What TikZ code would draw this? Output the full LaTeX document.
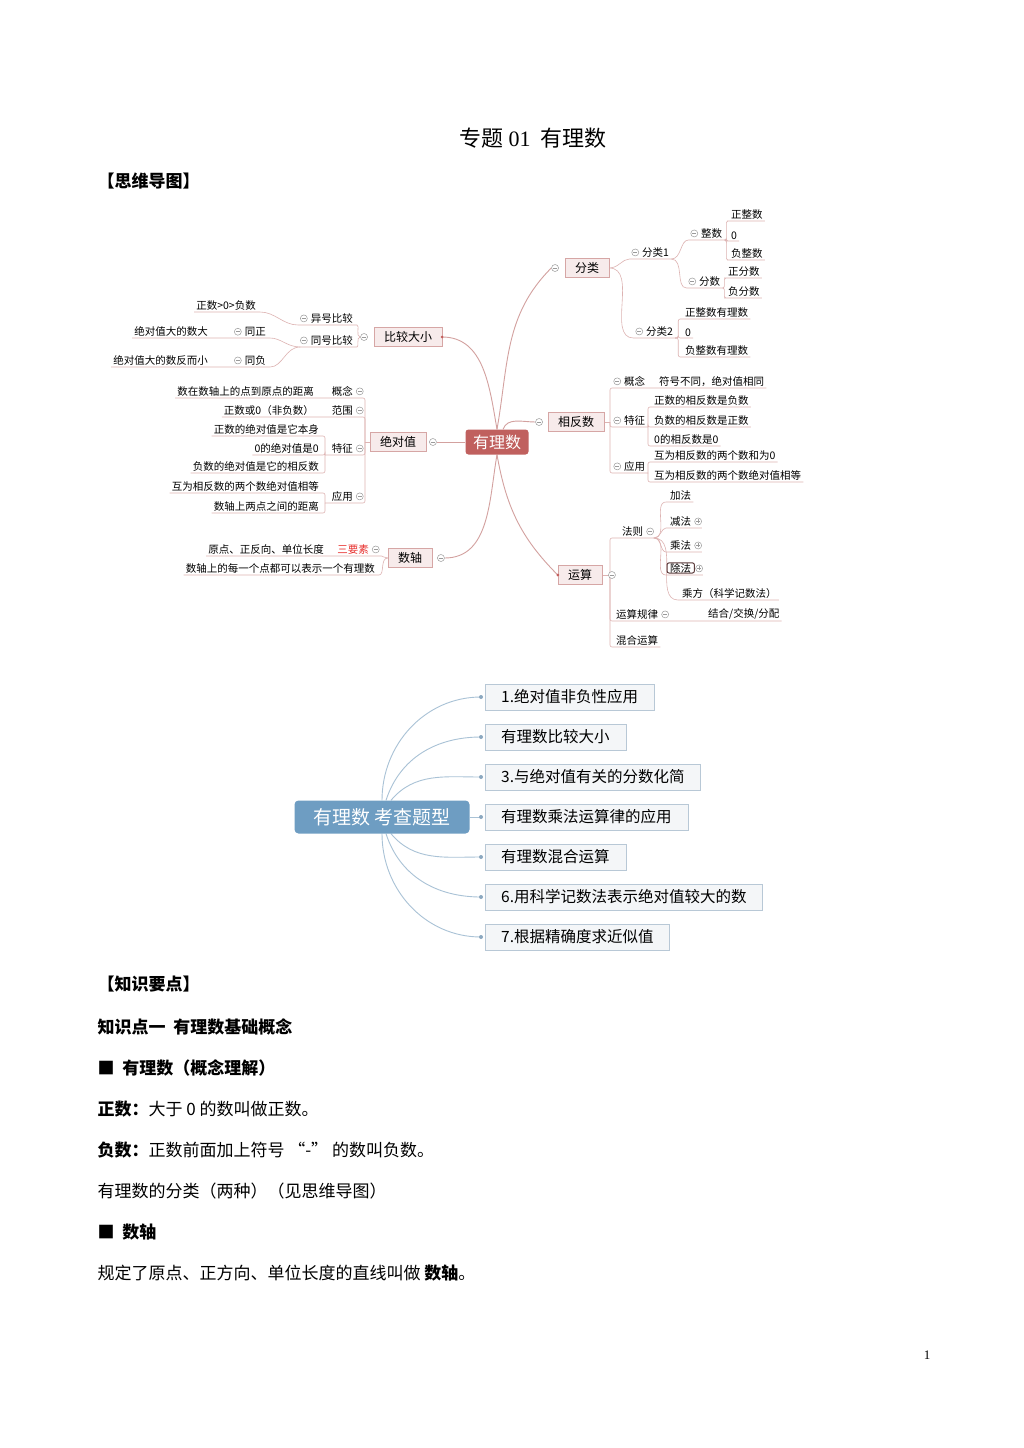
\documentclass[tikz,border=0pt]{standalone}
\usepackage{fontspec}
\setmainfont{Noto Sans CJK SC}
\newfontfamily\numfont{Liberation Serif}
\usetikzlibrary{positioning,backgrounds}
\definecolor{rootred}{HTML}{C0605E}
\definecolor{topicfill}{HTML}{F7EBEB}
\definecolor{topicline}{HTML}{D6A6A5}
\definecolor{twigpink}{HTML}{DDB3B2}
\definecolor{limbpink}{HTML}{D3A19F}
\definecolor{dotred}{HTML}{C45E5C}
\definecolor{foldgray}{HTML}{9A9A9A}
\definecolor{keyred}{HTML}{E8312F}
\definecolor{selline}{HTML}{5B3B3B}
\definecolor{qblue}{HTML}{6E9DC2}
\definecolor{qline}{HTML}{A9C2D6}
\definecolor{qfill}{HTML}{F4F6F8}
\definecolor{qborder}{HTML}{B8C8D6}
\definecolor{qdotc}{HTML}{8CA8C0}

\begin{document}
\begin{tikzpicture}[x=1pt, y=-1pt,
  root/.style={fill=rootred, text=white, rounded corners=3pt, minimum width=63pt,
               minimum height=25pt, font=\fontsize{16}{18}\selectfont},
  topic/.style={draw=topicline, fill=topicfill, minimum height=19pt, inner xsep=10pt,
                inner ysep=1pt, font=\fontsize{12}{14}\selectfont},
  twig/.style={draw=twigpink, line width=0.6pt, rounded corners=2pt},
  limb/.style={draw=limbpink, line width=0.9pt},
  lf/.style={inner xsep=2pt, inner ysep=1.5pt, font=\fontsize{10.5}{12}\selectfont},
  lfL/.style={lf, anchor=south east},
  lfR/.style={lf, anchor=south west},
  fold/.style={circle, draw=foldgray, fill=white, line width=0.5pt, inner sep=0pt, minimum size=7pt,
               path picture={\draw[foldgray, line width=0.5pt]
                 ([xshift=-2pt]path picture bounding box.center) -- ([xshift=2pt]path picture bounding box.center);}},
  unfold/.style={fold,
               path picture={\draw[foldgray, line width=0.5pt]
                 ([xshift=-2pt]path picture bounding box.center) -- ([xshift=2pt]path picture bounding box.center)
                 ([yshift=-2pt]path picture bounding box.center) -- ([yshift=2pt]path picture bounding box.center);}},
  dot/.style={circle, fill=dotred, inner sep=0pt, minimum size=3pt},
  selbox/.style={draw=selline, line width=1pt, rounded corners=2pt},
  qroot/.style={fill=qblue, text=white, rounded corners=4pt, minimum width=175pt,
                minimum height=33pt, font=\fontsize{19}{22}\selectfont},
  qbox/.style={draw=qborder, fill=qfill, anchor=west, minimum height=26pt, inner xsep=16pt,
               font=\fontsize{15.5}{18}\selectfont},
  qlimb/.style={draw=qline, line width=0.9pt},
  qdot/.style={circle, fill=qdotc, inner sep=0pt, minimum size=4pt},
  head/.style={anchor=west, font=\fontsize{17}{20}\selectfont\bfseries},
  body/.style={anchor=west, font=\fontsize{17}{20}\selectfont},
]
  \useasboundingbox (0,0) rectangle (1024,1448);

  % headings
  \node[font=\fontsize{22}{26}\selectfont] (title) at (533,138) {专题 {\numfont 01}\ \ 有理数};
  \node[head] (mapHead) at (94,181) {【思维导图】};

  % centre
  \node[root] (zx) at (497,442) {有理数};

  % 分类
  \node[topic] (fl) at (587,268) {分类};
  \node[fold, left=6pt of fl] (fl-f) {};
  \node[lfR] (fl1) at (640,259) {分类1};
  \node[fold, left=1pt of fl1] (fl1-f) {};
  \node[lfR] (zs) at (699,240) {整数};
  \node[fold, left=1pt of zs] (zs-f) {};
  \node[lfR] (z1) at (729,221) {正整数};
  \node[lfR] (z2) at (729,241) {0};
  \node[lfR] (z3) at (729,260) {负整数};
  \node[lfR] (fs) at (697,288) {分数};
  \node[fold, left=1pt of fs] (fs-f) {};
  \node[lfR] (f1) at (726,278) {正分数};
  \node[lfR] (f2) at (726,298) {负分数};
  \node[lfR] (fl2) at (644,338) {分类2};
  \node[fold, left=1pt of fl2] (fl2-f) {};
  \node[lfR] (p1) at (683,319) {正整数有理数};
  \node[lfR] (p2) at (683,338) {0};
  \node[lfR] (p3) at (683,357) {负整数有理数};

  % 比较大小
  \node[topic] (bx) at (408,337) {比较大小};
  \node[fold, left=6pt of bx] (bx-f) {};
  \node[dot] (bx-d) at (bx.east) {};
  \node[lfL] (yh) at (355,325) {异号比较};
  \node[fold, left=1pt of yh] (yh-f) {};
  \node[lfL] (zf) at (258,312) {正数>0>负数};
  \node[lfL] (th) at (355,347) {同号比较};
  \node[fold, left=1pt of th] (th-f) {};
  \node[lfL] (tzh) at (268,338) {同正};
  \node[fold, left=1pt of tzh] (tzh-f) {};
  \node[lfL] (jd) at (210,338) {绝对值大的数大};
  \node[lfL] (tfh) at (268,367) {同负};
  \node[fold, left=1pt of tfh] (tfh-f) {};
  \node[lfL] (jf) at (210,367) {绝对值大的数反而小};

  % 绝对值
  \node[topic] (jv) at (398,442) {绝对值};
  \node[fold, right=3pt of jv] (jv-f) {};
  \coordinate (jt) at (365,442);
  \node[lfL] (gk2) at (355,398) {概念};
  \node[fold, right=1pt of gk2] (gk2-f) {};
  \node[lfL] (ck) at (316,398) {数在数轴上的点到原点的距离};
  \node[lfL] (fw) at (355,417) {范围};
  \node[fold, right=1pt of fw] (fw-f) {};
  \node[lfL] (cf) at (316,417) {正数或0（非负数）};
  \node[lfL] (tz2) at (355,455) {特征};
  \node[fold, right=1pt of tz2] (tz2-f) {};
  \coordinate (tzt2) at (325,455);
  \node[lfL] (c1) at (321,436) {正数的绝对值是它本身};
  \node[lfL] (c2) at (321,455) {0的绝对值是0};
  \node[lfL] (c3) at (321,473) {负数的绝对值是它的相反数};
  \node[lfL] (yy2) at (355,503) {应用};
  \node[fold, right=1pt of yy2] (yy2-f) {};
  \coordinate (yyt2) at (325,503);
  \node[lfL] (d1) at (321,493) {互为相反数的两个数绝对值相等};
  \node[lfL] (d2) at (321,513) {数轴上两点之间的距离};

  % 数轴
  \node[topic] (sz) at (410,558) {数轴};
  \node[fold, right=5pt of sz] (sz-f) {};
  \node[lfL, text=keyred] (sy) at (371,556) {三要素};
  \node[fold, right=1pt of sy] (sy-f) {};
  \node[lfL] (sc) at (326,556) {原点、正反向、单位长度};
  \node[lfL] (mz) at (377,575) {数轴上的每一个点都可以表示一个有理数};

  % 相反数
  \node[topic] (xf) at (576,422) {相反数};
  \node[fold, left=5pt of xf] (xf-f) {};
  \coordinate (xt) at (610,422);
  \node[lfR] (gn) at (622,388) {概念};
  \node[fold, left=1pt of gn] (gn-f) {};
  \node[lfR] (gc) at (657,388) {符号不同，绝对值相同};
  \node[lfR] (tz) at (622,427) {特征};
  \node[fold, left=1pt of tz] (tz-f) {};
  \coordinate (tzt) at (648,427);
  \node[lfR] (t1) at (652,407) {正数的相反数是负数};
  \node[lfR] (t2) at (652,427) {负数的相反数是正数};
  \node[lfR] (t3) at (652,446) {0的相反数是0};
  \node[lfR] (yy) at (622,473) {应用};
  \node[fold, left=1pt of yy] (yy-f) {};
  \coordinate (yyt) at (648,473);
  \node[lfR] (y1) at (652,462) {互为相反数的两个数和为0};
  \node[lfR] (y2) at (652,482) {互为相反数的两个数绝对值相等};

  % 运算
  \node[topic] (ys) at (580,575) {运算};
  \node[dot] (ys-d) at (ys.west) {};
  \node[fold, right=6pt of ys] (ys-f) {};
  \coordinate (yt) at (610,575);
  \node[lfR] (fz) at (620,538) {法则};
  \node[fold, right=1pt of fz] (fz-f) {};
  \node[lfR] (a1) at (668,502) {加法};
  \node[lfR] (a2) at (668,528) {减法};
  \node[unfold, right=1pt of a2] (a2-u) {};
  \node[lfR] (a3) at (668,552) {乘法};
  \node[unfold, right=1pt of a3] (a3-u) {};
  \node[lfR] (a4) at (668,575) {除法};
  \node[unfold, right=2pt of a4] (a4-u) {};
  \node[lfR] (a5) at (680,600) {乘方（科学记数法）};
  \node[lfR] (gl) at (614,621) {运算规律};
  \node[fold, right=1pt of gl] (gl-f) {};
  \node[lfR] (jh) at (706,621) {结合/交换/分配};
  \node[lfR] (hh) at (614,647) {混合运算};
  \draw[selbox] ([shift={(-1,-2)}]a4.south west) rectangle ([shift={(1,1)}]a4.north east);

  % question types
  \node[qroot] (qz) at (382,817) {有理数 考查题型};
  \foreach \i/\t in {1/{1.绝对值非负性应用}, 2/{有理数比较大小}, 3/{3.与绝对值有关的分数化简},
                     4/{有理数乘法运算律的应用}, 5/{有理数混合运算},
                     6/{6.用科学记数法表示绝对值较大的数}, 7/{7.根据精确度求近似值}} {
    \node[qbox] (q\i) at (485,657+40*\i) {\t};
    \node[qdot] (qd\i) at (481,657+40*\i) {};
  }

  % knowledge points
  \node[head] (tipHead) at (94,984) {【知识要点】};
  \node[head] (pt1) at (94,1027) {知识点一\ \ 有理数基础概念};
  \node[head] (pt1a) at (94,1068) {■\ \ 有理数（概念理解）};
  \node[body] (posNum) at (94,1109) {{\bfseries 正数：}大于 0 的数叫做正数。};
  \node[body] (negNum) at (94,1150) {{\bfseries 负数：}正数前面加上符号 “-” 的数叫负数。};
  \node[body] (kinds) at (94,1191) {有理数的分类（两种）（见思维导图）};
  \node[head] (pt1b) at (94,1232) {■\ \ 数轴};
  \node[body] (axisDef) at (94,1273) {规定了原点、正方向、单位长度的直线叫做 {\bfseries 数轴}。};
  \node[font=\numfont\fontsize{13}{15}\selectfont] (pageNo) at (927,1355) {1};

  % connectors
  \begin{scope}[on background layer]
    \fill[white] (0,0) rectangle (1024,1448);
    \draw[limb] (zx.north) to[out=80,in=225] (fl-f.west);
    \draw[limb] (zx.north) to[out=100,in=0] (bx-d.center);
    \draw[limb] ([xshift=6pt]zx.north) to[out=70,in=180] (xf-f.west);
    \draw[limb] (zx.west) -- (jv-f.east);
    \draw[limb] (zx.south) to[out=-100,in=0] (sz-f.east);
    \draw[limb] (zx.south) to[out=-80,in=135] (ys-d.center);

    \draw[twig] (fl.east) to[out=0,in=180] (fl1-f.west |- fl1.south) -- (fl1.south east);
    \draw[twig] (fl.east) to[out=0,in=180] (fl2-f.west |- fl2.south) -- (fl2.south east);
    \draw[twig] (fl1.south east) to[out=0,in=180] (zs-f.west |- zs.south) -- (zs.south east);
    \draw[twig] (fl1.south east) to[out=0,in=180] (fs-f.west |- fs.south) -- (fs.south east);
    \foreach \n in {z1,z2,z3} \draw[twig] (zs.south east) -- ++(2,0) |- (\n.south west) -- (\n.south east);
    \foreach \n in {f1,f2} \draw[twig] (fs.south east) -- ++(2,0) |- (\n.south west) -- (\n.south east);
    \foreach \n in {p1,p2,p3} \draw[twig] (fl2.south east) -- ++(3,0) |- (\n.south west) -- (\n.south east);

    \draw[twig] (bx-f.west) to[out=180,in=0] (yh.south east) -- (yh-f.west |- yh.south)
                to[out=180,in=0] (zf.south east) -- (zf.south west);
    \draw[twig] (bx-f.west) to[out=180,in=0] (th.south east) -- (th-f.west |- th.south);
    \draw[twig] (th-f.west |- th.south) to[out=180,in=0] (tzh.south east) -- (jd.south west);
    \draw[twig] (th-f.west |- th.south) to[out=180,in=0] (tfh.south east) -- (jf.south west);

    \draw[twig] (jv.west) -- (jt);
    \foreach \n in {ck,cf} \draw[twig] (jt) |- (\n.south west);
    \draw[twig] (jt) |- (tzt2);
    \draw[twig] (jt) |- (yyt2);
    \foreach \n in {c1,c2,c3} \draw[twig] (tzt2) |- (\n.south west);
    \foreach \n in {d1,d2} \draw[twig] (yyt2) |- (\n.south west);

    \draw[twig] (sz.west) to[out=180,in=0] (sy-f.east |- sy.south) -- (sc.south west);
    \draw[twig] (sz.west) to[out=180,in=0] (mz.south east) -- (mz.south west);

    \draw[twig] (xf.east) -- (xt);
    \draw[twig] (xt) |- (gc.south east);
    \draw[twig] (xt) |- (tzt);
    \draw[twig] (xt) |- (yyt);
    \foreach \n in {t1,t2,t3} \draw[twig] (tzt) |- (\n.south east);
    \foreach \n in {y1,y2} \draw[twig] (yyt) |- (\n.south east);

    \draw[twig] (ys.east) -- (yt);
    \draw[twig] (yt) |- (fz-f.east |- fz.south);
    \foreach \n in {a1,a5} \draw[twig] (fz-f.east |- fz.south) to[out=0,in=180] (\n.south west) -- (\n.south east);
    \foreach \n in {a2,a3,a4} \draw[twig] (fz-f.east |- fz.south) to[out=0,in=180] (\n.south west) -- (\n-u.east |- \n.south);
    \draw[twig] (yt) |- (jh.south east);
    \draw[twig] (yt) |- (hh.south east);

    \foreach \i/\a/\s in {1/90/0, 2/72/4, 3/50/9}
      \draw[qlimb] ([xshift=\s pt]qz.north) to[out=\a,in=180] (qd\i.center);
    \draw[qlimb] (qz.east) -- (qd4.center);
    \foreach \i/\a/\s in {5/-50/9, 6/-72/4, 7/-90/0}
      \draw[qlimb] ([xshift=\s pt]qz.south) to[out=\a,in=180] (qd\i.center);
  \end{scope}
\end{tikzpicture}
\end{document}
